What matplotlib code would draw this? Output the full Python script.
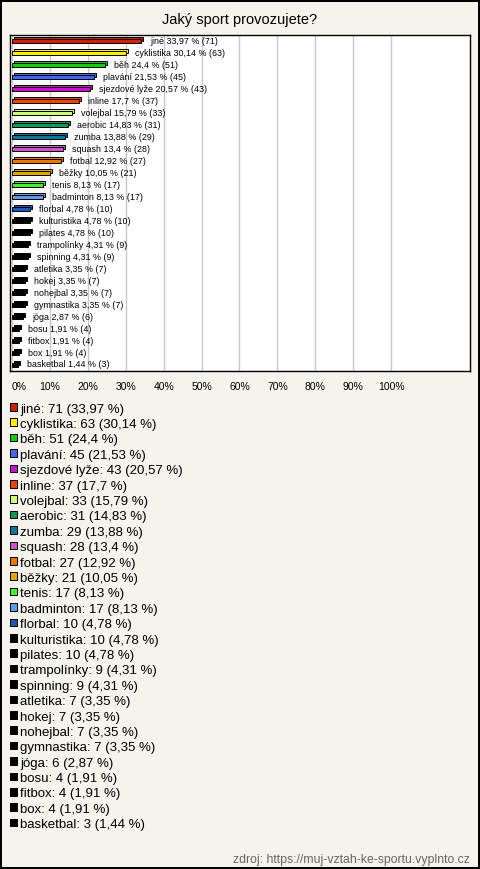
import matplotlib
matplotlib.use("Agg")
import matplotlib.pyplot as plt
import matplotlib.transforms as mtransforms

plt.rcParams['font.family'] = ['Liberation Sans', 'DejaVu Sans']

sporty = ["jiné", "cyklistika", "běh", "plavání", "sjezdové lyže", "inline",
          "volejbal", "aerobic", "zumba", "squash", "fotbal", "běžky", "tenis",
          "badminton", "florbal", "kulturistika", "pilates", "trampolínky",
          "spinning", "atletika", "hokej", "nohejbal", "gymnastika", "jóga",
          "bosu", "fitbox", "box", "basketbal"]
pocty = [71, 63, 51, 45, 43, 37, 33, 31, 29, 28, 27, 21, 17, 17, 10, 10, 10,
         9, 9, 7, 7, 7, 7, 6, 4, 4, 4, 3]
procenta = [33.97, 30.14, 24.4, 21.53, 20.57, 17.7, 15.79, 14.83, 13.88, 13.4,
            12.92, 10.05, 8.13, 8.13, 4.78, 4.78, 4.78, 4.31, 4.31, 3.35, 3.35,
            3.35, 3.35, 2.87, 1.91, 1.91, 1.91, 1.44]
barvy = ["#cc2200", "#ffee00", "#11cc11", "#4466ee", "#cc11cc", "#ee4400",
         "#ccff77", "#119955", "#117799", "#cc55cc", "#ee7700", "#ddaa00",
         "#44ee33", "#6699dd", "#2255bb"] + ["#000000"] * 13
titulek = "Jaký sport provozujete?"
zdroj = "zdroj: https://muj-vztah-ke-sportu.vyplnto.cz"

W, H = 480, 869
bg = "#f4f3ec"


def px(l, t, r, b):
    return [l / W, 1 - b / H, (r - l) / W, (b - t) / H]


def cz(p):
    return str(p).replace(".", ",")


fig = plt.figure(figsize=(W / 100, H / 100), dpi=100, facecolor=bg)
fig.patch.set_edgecolor("black")
fig.patch.set_linewidth(1.5)

fig.text(0.5, 1 - 20 / H, titulek, ha="center", va="center", fontsize=10.5)

n = len(sporty)
y = list(range(n))
ax = fig.add_axes(px(10, 35, 470, 371))
ax.set_facecolor("white")
ax.set_xlim(-2.1 / 3.79, 458 / 3.79)
ax.set_ylim(n - 0.5, -0.5)

# 3D efekt: zadni pruh posunuty vpravo nahoru
posun = mtransforms.ScaledTranslation(2 / 100, 2 / 100, fig.dpi_scale_trans)
ax.barh(y, procenta, height=0.4, color=barvy, edgecolor="black", linewidth=0.7,
        transform=ax.transData + posun, zorder=2)
ax.barh(y, procenta, height=0.4, color=barvy, edgecolor="black", linewidth=0.7,
        zorder=3)

for i in range(n):
    ax.annotate(f"{sporty[i]} {cz(procenta[i])} % ({pocty[i]})", (procenta[i], i),
                xytext=(6.5, 0), textcoords="offset points", va="center",
                fontsize=6.4, zorder=4)

ax.set_xticks(range(0, 101, 10))
ax.set_xticklabels([f"{v}%" for v in range(0, 101, 10)], fontsize=7.5)
ax.get_xticklabels()[0].set_ha("left")
ax.set_yticks([])
ax.tick_params(axis="x", length=0, pad=8)
ax.grid(axis="x", color="#c8c8c8", linewidth=1)
ax.set_axisbelow(True)
for s in ax.spines.values():
    s.set_color("black")
    s.set_linewidth(1)

# legenda
lax = fig.add_axes(px(0, 408 - 7.7, 480, 408 + 27 * 15.4 + 7.7))
lax.set_xlim(0, W)
lax.set_ylim(n - 0.5, -0.5)
lax.axis("off")
ctverce = mtransforms.ScaledTranslation(0, 1.2 / 100, fig.dpi_scale_trans)
lax.scatter([13.5] * n, y, marker="s", s=30, c=barvy, edgecolors="black",
            linewidths=0.7, transform=lax.transData + ctverce)
for i in range(n):
    lax.text(20, i, f"{sporty[i]}: {pocty[i]} ({cz(procenta[i])} %)",
             va="center_baseline", ha="left", fontsize=9.5)

fig.text(470 / W, 1 - 860 / H, zdroj, ha="right", va="center", fontsize=8.8,
         color="#666666")

fig.savefig("out.png", dpi=100, facecolor=bg, edgecolor="black")
